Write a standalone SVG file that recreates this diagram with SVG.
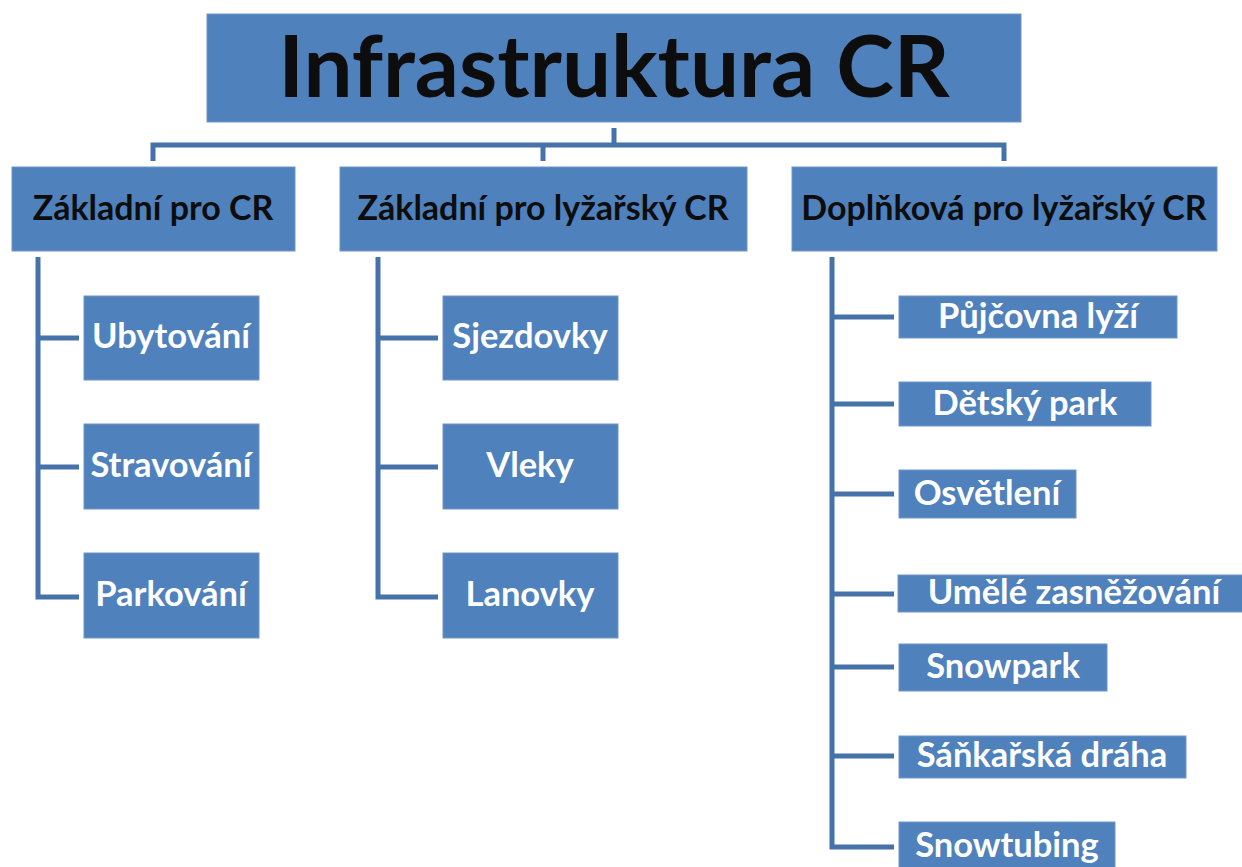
<svg xmlns="http://www.w3.org/2000/svg" width="1242" height="867" viewBox="0 0 1242 867">
<style>
.box{fill:#4f81bd;stroke:#6f97c8;stroke-width:1}
.t1{font-family:Lato,"Open Sans",sans-serif;font-weight:bold;font-size:87px;fill:#0d0d0d;text-anchor:middle}
.t2{font-family:Lato,"Open Sans",sans-serif;font-weight:bold;font-size:34px;fill:#0d0d0d;text-anchor:middle}
.t3{font-family:Lato,"Open Sans",sans-serif;font-weight:bold;font-size:34.5px;fill:#ffffff;text-anchor:middle}
.ln{fill:none;stroke:#4672aa;stroke-width:5;stroke-linejoin:miter}
</style>
<rect width="1242" height="867" fill="#ffffff"/>
<g id="connectors">
<path class="ln" d="M614 128 V145 M153 161 V145 H1004 V161 M543 145 V161"/>
<path class="ln" d="M38 257 V597 H79 M38 338 H79 M38 467 H79"/>
<path class="ln" d="M378 257 V597 H438 M378 338 H438 M378 467 H438"/>
<path class="ln" d="M832 257 V847 H894 M832 317 H894 M832 404 H894 M832 494 H894 M832 594 H894 M832 667 H894 M832 756 H894"/>
</g>
<g id="n-root"><rect class="box" x="207" y="14" width="814" height="108"/><text class="t1" x="614" y="97">Infrastruktura CR</text></g>
<g id="n-zakladni-cr"><rect class="box" x="12" y="167" width="283" height="84"/><text class="t2" x="153" y="220">Základní pro CR</text></g>
<g id="n-zakladni-lyz"><rect class="box" x="340" y="167" width="407" height="84"/><text class="t2" x="543" y="220">Základní pro lyžařský CR</text></g>
<g id="n-doplnkova"><rect class="box" x="792" y="167" width="425" height="84"/><text class="t2" x="1004" y="220">Doplňková pro lyžařský CR</text></g>
<g id="n-ubytovani"><rect class="box" x="84" y="296" width="175" height="84"/><text class="t3" x="171" y="348">Ubytování</text></g>
<g id="n-stravovani"><rect class="box" x="84" y="424" width="175" height="85"/><text class="t3" x="171" y="477">Stravování</text></g>
<g id="n-parkovani"><rect class="box" x="84" y="553" width="175" height="85"/><text class="t3" x="171" y="606">Parkování</text></g>
<g id="n-sjezdovky"><rect class="box" x="443" y="296" width="175" height="84"/><text class="t3" x="530" y="348">Sjezdovky</text></g>
<g id="n-vleky"><rect class="box" x="443" y="424" width="175" height="85"/><text class="t3" x="530" y="477">Vleky</text></g>
<g id="n-lanovky"><rect class="box" x="443" y="553" width="175" height="85"/><text class="t3" x="530" y="606">Lanovky</text></g>
<g id="n-pujcovna"><rect class="box" x="899" y="296" width="278" height="42"/><text class="t3" x="1038" y="328">Půjčovna lyží</text></g>
<g id="n-detsky"><rect class="box" x="899" y="382" width="252" height="44"/><text class="t3" x="1025" y="415">Dětský park</text></g>
<g id="n-osvetleni"><rect class="box" x="899" y="470" width="177" height="48"/><text class="t3" x="987" y="505">Osvětlení</text></g>
<g id="n-umele"><rect class="box" x="898" y="575" width="352" height="37"/><text class="t3" x="1074" y="604">Umělé zasněžování</text></g>
<g id="n-snowpark"><rect class="box" x="899" y="644" width="208" height="47"/><text class="t3" x="1003" y="678">Snowpark</text></g>
<g id="n-sankarska"><rect class="box" x="899" y="736" width="287" height="42"/><text class="t3" x="1042" y="767">Sáňkařská dráha</text></g>
<g id="n-snowtubing"><rect class="box" x="899" y="822" width="216" height="52"/><text class="t3" x="1007" y="857">Snowtubing</text></g>
</svg>
